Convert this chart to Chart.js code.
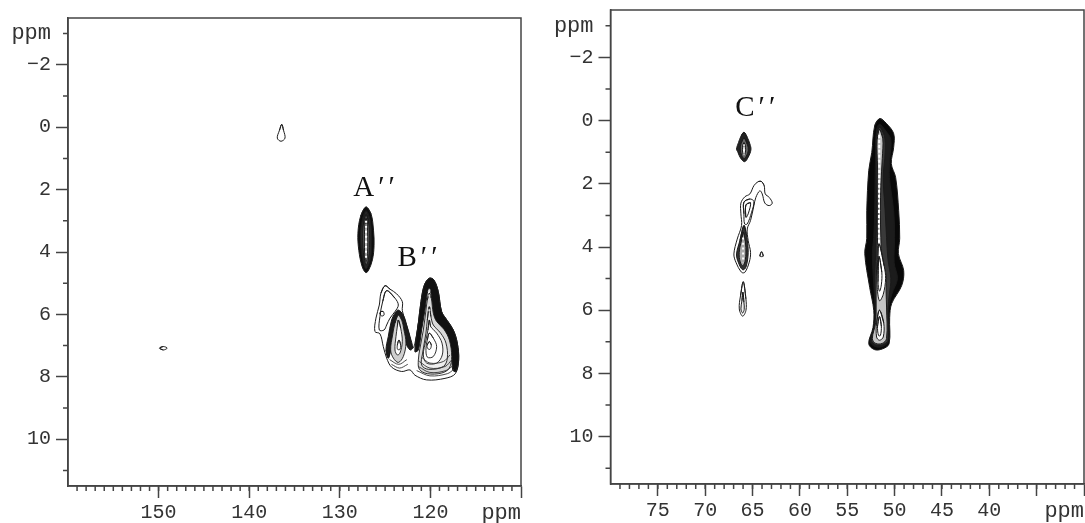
<!DOCTYPE html>
<html>
<head>
<meta charset="utf-8">
<title>2D NMR contour plots</title>
<script src="https://cdn.jsdelivr.net/npm/chart.js@4"></script>
<style>
  html, body { margin: 0; padding: 0; background: #fff; overflow: hidden; }
  canvas { position: absolute; top: 0; }
  #left { left: 0; }
  #right { left: 545px; top: -8px; }
</style>
</head>
<body>
<canvas id="left" width="540" height="523"></canvas>
<canvas id="right" width="545" height="531"></canvas>
<script>
// ---- axis ticks ----
const yMajor = [-3, -2, 0, 2, 4, 6, 8, 10];
const yMinor = [-3, -1, 1, 3, 5, 7, 9, 11];
const xMajorLeft = [150, 140, 130, 120, 110];
const xLabelsLeft = [150, 140, 130, 120];
const xMajorRight = [75, 70, 65, 60, 55, 50, 45, 40, 35, 30];
const xLabelsRight = [75, 70, 65, 60, 55, 50, 45, 40];

// ---- peak labels (ppm) ----
const labelsLeft = ["A\u2032\u2032", "B\u2032\u2032"];
const labelsLeftX = [126.0, 121.2];
const labelsLeftY = [1.95, 4.19];
const labelsRight = ["C\u2032\u2032"];
const labelsRightX = [64.5];
const labelsRightY = [-0.38];

// ---- contours, [f2 ppm, f1 ppm], outermost first ----
const smallPeakTop = [[136.41,-0.09],[136.21,0.10],[136.05,0.35],[136.49,0.45],[136.9,0.35],[136.66,0.10]];
const smallPeakLow = [[149.9,7.08],[149.48,7.03],[149.05,7.08],[149.48,7.14]];

const peakA = [
  [[127.11,2.56],[126.55,2.78],[126.28,3.3],[126.22,3.8],[126.4,4.25],[126.85,4.6],[127.15,4.66],[127.55,4.45],[127.9,3.95],[128.0,3.4],[127.7,2.85]],
  [[127.11,2.68],[126.7,2.9],[126.5,3.35],[126.48,3.8],[126.6,4.2],[126.95,4.5],[127.15,4.54],[127.4,4.35],[127.65,3.9],[127.72,3.4],[127.5,2.95]],
  [[127.1,2.8],[126.85,3.0],[126.72,3.4],[126.72,3.85],[126.85,4.25],[127.1,4.42],[127.3,4.2],[127.45,3.85],[127.48,3.4],[127.35,3.0]],
  [[127.1,2.92],[126.98,3.1],[126.92,3.5],[126.92,3.9],[127.0,4.2],[127.1,4.3],[127.22,4.15],[127.28,3.85],[127.28,3.45],[127.22,3.1]]
];
const beadsA = [[127.1,3.0],[127.1,3.6],[127.1,4.25]];

const peakBOutline = [[125.01,5.08],[124.46,5.19],[123.73,5.34],[123.1,5.59],[123.1,5.88],[122.7,6.28],[122.33,6.66],[121.96,7.08],[121.7,6.92],[121.33,6.28],[121.04,5.59],[120.67,5.06],[120.12,4.84],[119.61,4.9],[119.13,5.27],[118.76,5.91],[118.13,6.2],[117.47,6.5],[117.03,6.92],[116.88,7.46],[117.25,7.9],[118.39,8.05],[120.41,8.1],[121.7,7.95],[122.25,7.78],[123.17,7.83],[124.28,7.69],[124.83,7.4],[125.2,7.03],[125.57,6.62],[126.12,6.55],[126.01,6.12],[125.64,5.7],[125.46,5.32]];
const peakBLobe = [
  [[124.83,5.24],[123.91,5.48],[123.54,5.7],[123.91,5.91],[124.46,6.12],[124.83,6.34],[125.12,6.5],[125.64,6.5],[125.57,6.07],[125.27,5.59]],
  [[125.46,5.91],[125.2,5.91],[125.12,6.02],[125.38,6.05],[125.57,5.98]]
];
// the packed (dark) flanks of the two peaks
const peakBMiddleBand = [[124.65,7.4],[124.9,7.14],[124.65,6.71],[124.28,6.18],[123.91,5.96],[123.54,5.86],[122.99,6.02],[122.62,6.34],[122.25,6.71],[121.96,7.08],[122.25,7.14],[122.7,6.92],[122.92,6.5],[123.17,6.18],[123.54,6.07],[123.91,6.28],[124.17,6.66],[124.39,7.14]];
const peakBMainBand = [[121.7,7.19],[121.33,6.28],[121.04,5.59],[120.67,5.06],[120.12,4.84],[119.61,4.9],[119.13,5.27],[118.76,5.91],[118.13,6.2],[117.47,6.5],[117.03,6.92],[116.88,7.46],[117.18,7.83],[117.54,7.78],[117.65,7.24],[118.02,6.82],[118.76,6.5],[119.5,6.28],[119.75,5.75],[119.94,5.32],[120.12,5.16],[120.34,5.32],[120.6,5.86],[120.97,6.5],[121.33,7.14]];
const peakBMiddle = [
  [[123.54,6.02],[123.17,6.18],[122.92,6.5],[122.7,6.92],[122.99,7.35],[123.54,7.54],[124.09,7.4],[124.39,7.14],[124.17,6.66],[123.91,6.28]],
  [[123.54,6.18],[123.28,6.44],[123.1,6.87],[123.36,7.24],[123.65,7.3],[123.91,7.14],[123.8,6.71],[123.65,6.39]],
  [[123.47,6.82],[123.28,6.98],[123.36,7.12],[123.62,7.12],[123.65,6.98]]
];
const peakBMain = [
  [[120.12,5.32],[119.9,5.48],[119.68,5.96],[119.31,6.23],[118.5,6.48],[117.91,6.82],[117.65,7.35],[117.91,7.72],[118.76,7.88],[120.34,7.9],[121.22,7.76],[121.33,7.46],[121.15,7.08],[120.78,6.5],[120.49,5.86],[120.34,5.54]],
  [[120.12,5.75],[119.94,6.07],[119.68,6.34],[118.87,6.6],[118.28,6.92],[118.13,7.4],[118.57,7.67],[120.23,7.76],[120.97,7.62],[120.86,7.24],[120.49,6.6],[120.34,6.18]],
  [[120.12,6.18],[119.97,6.39],[119.31,6.6],[118.72,6.92],[118.69,7.3],[119.31,7.56],[120.41,7.56],[120.78,7.3],[120.49,6.82],[120.27,6.5]],
  [[120.12,6.6],[119.68,6.76],[119.31,7.03],[119.68,7.35],[120.34,7.37],[120.49,7.08],[120.34,6.82]],
  [[120.12,6.87],[119.9,6.98],[120.05,7.12],[120.34,7.08],[120.34,6.98]]
];
const peakBWaves = [
  [[120.97,7.37],[120.05,7.56],[118.57,7.51],[117.84,7.3]],
  [[121.22,7.51],[120.05,7.72],[118.39,7.67],[117.65,7.46]],
  [[121.33,7.67],[120.05,7.86],[118.28,7.8],[117.54,7.65]],
  [[121.52,7.8],[120.05,7.97],[118.13,7.9],[117.4,7.76]],
  [[124.5,7.45],[123.5,7.6],[122.6,7.45]],
  [[124.3,7.6],[123.4,7.72],[122.5,7.6]]
];
const beadsB = [[120.12,5.2],[120.12,5.9]];

const peakC = [
  [[65.91,0.37],[65.56,0.53],[65.28,0.74],[65.17,0.92],[65.46,1.16],[65.84,1.30],[66.26,1.19],[66.55,1.0],[66.69,0.9],[66.48,0.69],[66.23,0.50]],
  [[65.9,0.55],[65.55,0.75],[65.45,0.95],[65.65,1.12],[65.9,1.2],[66.15,1.1],[66.3,0.9],[66.2,0.72]],
  [[65.9,0.7],[65.75,0.85],[65.75,1.0],[65.9,1.1],[66.05,1.0],[66.05,0.85]]
];
const peakCMidOutline = [[64.05,1.93],[63.77,2.06],[63.66,2.32],[63.24,2.43],[62.92,2.61],[63.24,2.69],[63.7,2.61],[63.98,2.32],[64.23,2.22],[64.65,2.43],[64.86,2.69],[65.21,3.16],[65.56,3.43],[65.46,3.8],[65.21,4.17],[65.35,4.48],[65.81,4.8],[66.16,4.8],[66.76,4.48],[66.97,4.22],[66.62,3.75],[66.16,3.32],[66.23,2.95],[66.23,2.61],[65.81,2.41],[65.28,2.32],[64.86,2.06],[64.4,1.93]];
const peakCMidInner = [
  [[65.91,2.58],[65.28,2.48],[64.86,2.56],[65.1,2.9],[65.56,3.27],[65.84,3.27],[65.91,2.95]],
  [[65.7,2.67],[65.21,2.6],[65.46,2.95],[65.7,3.06]]
];
const peakCBulb = [
  [[65.91,3.32],[65.63,3.64],[65.46,4.17],[65.7,4.64],[66.05,4.72],[66.51,4.48],[66.69,4.22],[66.34,3.8]],
  [[65.98,3.53],[65.77,3.8],[65.7,4.22],[65.88,4.54],[66.12,4.59],[66.4,4.33],[66.34,4.01],[66.12,3.75]]
];
const beadsC = [[66.0,3.7],[66.0,4.5]];
const beadsCTop = [[65.9,0.75],[65.9,1.1]];
const tinySpot = [[64.05,4.15],[63.87,4.29],[64.23,4.29]];
const streakC = [
  [[65.98,5.1],[65.7,5.64],[65.7,6.01],[66.05,6.19],[66.4,5.96],[66.27,5.54]],
  [[66.02,5.43],[65.91,5.75],[65.88,5.98],[66.05,6.09],[66.23,5.96],[66.12,5.7]]
];

const peakBig = [
  [[51.57,-0.06],[50.87,0.09],[50.1,0.41],[50.1,0.85],[50.35,1.36],[49.89,1.8],[49.57,2.85],[49.46,3.73],[49.6,4.21],[49.04,4.75],[49.25,5.22],[50.31,5.79],[50.52,6.23],[50.58,7.06],[51.25,7.22],[52.1,7.25],[52.73,7.06],[52.28,6.55],[52.2,6.01],[52.63,5.28],[53.15,4.21],[52.94,3.73],[52.94,2.85],[52.73,1.58],[52.41,1.01],[52.1,0.16]],
  [[51.6,0.12],[51.0,0.3],[50.4,0.6],[50.5,1.2],[50.55,1.8],[50.1,2.85],[50.0,3.7],[50.05,4.5],[49.7,5.0],[50.3,5.5],[50.65,6.0],[50.7,7.0],[51.3,7.15],[52.05,7.15],[52.55,7.0],[52.15,6.5],[52.05,6.0],[52.2,5.2],[52.35,4.2],[52.2,3.7],[52.1,2.85],[52.05,1.6],[52.0,1.0],[51.9,0.3]],
  [[51.6,0.2],[51.1,0.45],[51.0,1.0],[51.2,1.8],[51.0,2.85],[50.85,3.7],[50.7,4.4],[50.4,5.0],[50.55,5.5],[50.7,5.95],[50.7,6.95],[51.3,7.1],[52,7.1],[52.45,6.95],[52.05,6.5],[52.0,5.9],[52.1,5.2],[52.0,4.2],[51.95,3.7],[51.9,2.85],[51.95,1.6],[51.95,1.0],[51.95,0.5]],
  [[51.6,0.28],[51.25,0.55],[51.3,1.2],[51.45,2.0],[51.5,2.85],[51.45,3.7],[51.3,4.4],[50.9,4.9],[50.9,5.4],[50.85,5.9],[50.85,6.9],[51.3,7.05],[52.0,7.05],[52.35,6.9],[52.0,6.4],[51.95,5.9],[51.95,5.2],[51.85,4.2],[51.8,3.7],[51.75,2.85],[51.8,1.5],[51.85,0.6]],
  [[51.65,3.9],[51.1,4.6],[50.95,5.0],[51.2,5.5],[51.6,5.7],[51.85,5.2],[51.8,4.6]],
  [[51.65,4.3],[51.35,4.8],[51.4,5.2],[51.6,5.4],[51.75,5.1]],
  [[51.6,6.0],[51.15,6.4],[51.2,6.85],[51.6,6.95],[51.9,6.85],[51.9,6.4]],
  [[51.6,6.2],[51.4,6.5],[51.5,6.8],[51.7,6.8],[51.8,6.5]]
];
const beadsBig = [[51.62,0.45],[51.62,1.5],[51.65,2.85],[51.65,3.9]];

// ---- styling ----
const AXIS = "#444";
const MONO = '"Liberation Mono", monospace';

function contour(points, fill, width) {
  // wrap two points round each end so the spline closes without a cusp
  const n = points.length;
  const wrapped = [points[n - 1], ...points, points[0], points[1]];
  return {
    data: wrapped.map(p => ({ x: p[0], y: p[1] })),
    showLine: true,
    pointRadius: 0,
    tension: 0.35,
    borderColor: "#1a1a1a",
    borderWidth: width || 1,
    backgroundColor: fill || "transparent",
    fill: fill ? "shape" : false
  };
}
function rings(list, fills, width) {
  return list.map((pts, i) => contour(pts, fills[i], width));
}
function openLine(points, color, width, dash) {
  return {
    data: points.map(p => ({ x: p[0], y: p[1] })),
    showLine: true,
    pointRadius: 0,
    tension: 0.35,
    borderColor: color,
    borderWidth: width,
    borderDash: dash || [],
    fill: false
  };
}

function layered(sets) {
  // later datasets paint on top
  sets.forEach((s, i) => { s.order = -i; });
  return sets;
}

const leftSets = layered([
  contour(smallPeakTop),
  contour(smallPeakLow),
  ...rings(peakA, ["#0d0d0d", "#262626", "#555", "#bbb"]),
  openLine(beadsA, "#fff", 2, [2, 3]),
  contour(peakBOutline, "#fff"),
  ...rings(peakBLobe, [null, null]),
  contour(peakBMiddleBand, "#1c1c1c"),
  ...rings(peakBMiddle, ["#cfcfcf", "#fff", "#fff"], 0.9),
  contour(peakBMainBand, "#111"),
  ...rings(peakBMain, ["#d8d8d8", "#eee", "#fff", "#fff", "#fff"], 0.9),
  ...peakBWaves.map(w => openLine(w, "#333", 0.9)),
  openLine(beadsB, "#ddd", 2, [2, 3])
]);

const rightSets = layered([
  ...rings(peakC, ["#222", "#666", "#ddd"]),
  openLine(beadsCTop, "#fff", 1.5, [2, 3]),
  contour(peakCMidOutline, "#fff"),
  ...rings(peakCMidInner, [null, null]),
  ...rings(peakCBulb, ["#333", "#aaa"]),
  openLine(beadsC, "#fff", 2, [2, 3]),
  contour(tinySpot),
  ...rings(streakC, [null, "#eee"]),
  ...rings(peakBig, ["#080808", "#1c1c1c", "#3a3a3a", "#c4c4c4", "#fff", "#fff", "#fff", "#fff"]),
  openLine(beadsBig, "#fff", 2, [3, 2])
]);

// frame, minor ticks, the ppm caption and the peak letters
function decorPlugin(xMinor, names, namesX, namesY) {
  return {
    id: "decor",
    afterDraw(chart) {
      const { ctx, chartArea: a, scales: { x, y } } = chart;
      ctx.save();
      ctx.strokeStyle = AXIS;
      ctx.lineWidth = 1.5;
      ctx.strokeRect(a.left, a.top, a.right - a.left, a.bottom - a.top);
      ctx.beginPath();
      xMinor.forEach(v => {
        const px = x.getPixelForValue(v);
        ctx.moveTo(px, a.bottom);
        ctx.lineTo(px, a.bottom + 5);
      });
      yMinor.forEach(v => {
        const py = y.getPixelForValue(v);
        ctx.moveTo(a.left, py);
        ctx.lineTo(a.left - 5, py);
      });
      ctx.stroke();

      ctx.fillStyle = "#333";
      ctx.font = "22px " + MONO;
      ctx.textAlign = "right";
      ctx.textBaseline = "alphabetic";
      ctx.fillText("ppm", a.right, a.bottom + 33);

      ctx.fillStyle = "#111";
      ctx.font = '29px "Liberation Serif", serif';
      ctx.letterSpacing = "4px";
      ctx.textAlign = "center";
      ctx.textBaseline = "middle";
      names.forEach((n, i) => {
        ctx.fillText(n, x.getPixelForValue(namesX[i]), y.getPixelForValue(namesY[i]));
      });
      ctx.restore();
    }
  };
}

function makeOptions(xMin, xMax, xMajor, xLabels, yWidth, xHeight, padTop, padRight) {
  return {
    responsive: false,
    animation: false,
    events: [],
    layout: { autoPadding: false, padding: { top: padTop, right: padRight, left: 0, bottom: 0 } },
    plugins: { legend: { display: false }, tooltip: { enabled: false } },
    scales: {
      x: {
        type: "linear",
        reverse: true,
        min: xMin,
        max: xMax,
        afterBuildTicks: s => { s.ticks = xMajor.map(v => ({ value: v })); },
        afterFit: s => { s.height = xHeight; },
        border: { color: AXIS, width: 1.5 },
        grid: { drawOnChartArea: false, tickLength: 12, tickColor: AXIS, tickWidth: 1.5 },
        ticks: {
          autoSkip: false,
          maxRotation: 0,
          padding: 3,
          color: "#333",
          font: { family: MONO, size: 20 },
          callback: v => (xLabels.includes(v) ? String(v) : "")
        }
      },
      y: {
        type: "linear",
        reverse: true,
        min: -3.5,
        max: 11.5,
        afterBuildTicks: s => { s.ticks = yMajor.map(v => ({ value: v })); },
        afterFit: s => { s.width = yWidth; },
        border: { color: AXIS, width: 1.5 },
        grid: {
          drawOnChartArea: false,
          tickLength: 12,
          tickWidth: 1.5,
          tickColor: c => (c.tick && c.tick.value === -3 ? "transparent" : AXIS)
        },
        ticks: {
          autoSkip: false,
          padding: 5,
          color: "#333",
          font: c => ({ family: MONO, size: c.tick && c.tick.value === -3 ? 22 : 20 }),
          callback: v => (v === -3 ? "ppm" : String(v).replace("-", "\u2212"))
        }
      }
    }
  };
}

const xMinorLeft = [];
for (let v = 111; v < 160; v++) xMinorLeft.push(v);
const xMinorRight = [];
for (let v = 31; v < 80; v++) xMinorRight.push(v);

new Chart(document.getElementById("left"), {
  type: "scatter",
  data: { datasets: leftSets },
  options: makeOptions(110, 160, xMajorLeft, xLabelsLeft, 68, 37, 18, 19),
  plugins: [decorPlugin(xMinorLeft, labelsLeft, labelsLeftX, labelsLeftY)]
});

new Chart(document.getElementById("right"), {
  type: "scatter",
  data: { datasets: rightSets },
  options: makeOptions(30, 80, xMajorRight, xLabelsRight, 65.5, 39, 18, 6),
  plugins: [decorPlugin(xMinorRight, labelsRight, labelsRightX, labelsRightY)]
});
</script>
</body>
</html>
